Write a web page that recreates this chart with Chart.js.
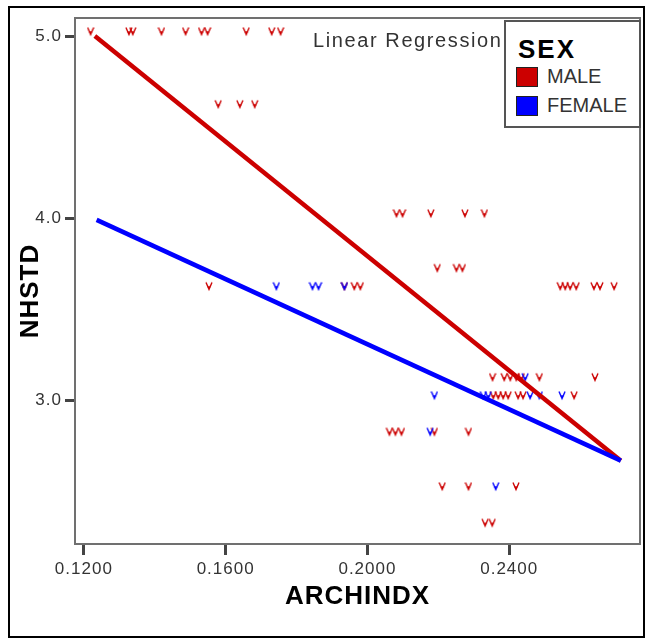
<!DOCTYPE html>
<html>
<head>
<meta charset="utf-8">
<script src="https://cdn.jsdelivr.net/npm/chart.js@4"></script>
<style>
  html, body { margin: 0; padding: 0; background: #fff; }
  #wrap { position: relative; width: 645px; height: 638px; font-family: "Liberation Sans", Arial, sans-serif; }
  #chart { position: absolute; left: 0; top: 0; }
  #frame { position: absolute; left: 8px; top: 6px; width: 637px; height: 632px; border: 2px solid #000; box-sizing: border-box; pointer-events: none; }
  #legend { position: absolute; left: 504px; top: 20px; width: 137px; height: 108px; border: 2px solid #555; box-sizing: border-box; background: #fff; }
  .txt { position: absolute; white-space: nowrap; color: #333; }
  .sw { position: absolute; width: 22px; height: 20px; border: 1px solid #222; box-sizing: border-box; }
  #ytitle { position: absolute; left: -31px; top: 278px; width: 120px; height: 26px; line-height: 26px; text-align: center;
            font-size: 26px; font-weight: bold; letter-spacing: 1px; color: #000; transform: rotate(-90deg); }
</style>
</head>
<body>
<div id="wrap">
  <canvas id="chart" width="645" height="638"></canvas>
  <div class="txt" id="note" style="left:313px; top:30px; font-size:20px; line-height:20px; letter-spacing:1.6px;">Linear Regression</div>
  <div id="legend"></div>
  <div class="txt" style="left:518px; top:36px; font-size:26px; line-height:26px; font-weight:bold; letter-spacing:2px; color:#000;">SEX</div>
  <div class="sw" style="left:516px; top:67px; background:#cc0000;"></div>
  <div class="txt" style="left:547px; top:66px; font-size:20px; line-height:20px;">MALE</div>
  <div class="sw" style="left:516px; top:96px; background:#0000ff;"></div>
  <div class="txt" style="left:547px; top:95px; font-size:20px; line-height:20px;">FEMALE</div>
  <div id="ytitle">NHSTD</div>
  <div id="frame"></div>
</div>
<script>
'use strict';

// ── Axis ticks ──
const xTicks = [0.12, 0.16, 0.20, 0.24];
const yTicks = [3.0, 4.0, 5.0];

// ── Scatter points (ARCHINDX, NHSTD) ──
const maleX = [
  0.1219, 0.1327, 0.1338, 0.1419, 0.1487, 0.1532, 0.1549, 0.1658, 0.1730, 0.1755,
  0.1579, 0.1640, 0.1682,
  0.2082, 0.2099, 0.2179, 0.2275, 0.2330,
  0.2197, 0.2251, 0.2268,
  0.1553, 0.1935, 0.1963, 0.1980, 0.2544, 0.2558, 0.2572, 0.2589, 0.2639, 0.2656, 0.2696,
  0.2353, 0.2386, 0.2403, 0.2420, 0.2434, 0.2485, 0.2642,
  0.2355, 0.2369, 0.2383, 0.2397, 0.2425, 0.2439, 0.2583,
  0.2062, 0.2079, 0.2096, 0.2189, 0.2285,
  0.2211, 0.2285, 0.2419,
  0.2332, 0.2352
];
const maleY = [
  5.0, 5.0, 5.0, 5.0, 5.0, 5.0, 5.0, 5.0, 5.0, 5.0,
  4.6, 4.6, 4.6,
  4.0, 4.0, 4.0, 4.0, 4.0,
  3.7, 3.7, 3.7,
  3.6, 3.6, 3.6, 3.6, 3.6, 3.6, 3.6, 3.6, 3.6, 3.6, 3.6,
  3.1, 3.1, 3.1, 3.1, 3.1, 3.1, 3.1,
  3.0, 3.0, 3.0, 3.0, 3.0, 3.0, 3.0,
  2.8, 2.8, 2.8, 2.8, 2.8,
  2.5, 2.5, 2.5,
  2.3, 2.3
];
const femaleX = [0.1743, 0.1845, 0.1862, 0.1935, 0.2445, 0.2189, 0.2327, 0.2341, 0.2459, 0.2485, 0.2549, 0.2177, 0.2362];
const femaleY = [3.6, 3.6, 3.6, 3.6, 3.1, 3.0, 3.0, 3.0, 3.0, 3.0, 3.0, 2.8, 2.5];

// ── Fitted regression lines (end points) ──
const maleFitX = [0.1231, 0.2715];
const maleFitY = [5.0, 2.667];
const femaleFitX = [0.1236, 0.2715];
const femaleFitY = [3.99, 2.667];

const RED = '#cc0000';
const BLUE = '#0000ff';
const FONT = '"Liberation Sans", Arial, sans-serif';

const zip = (xs, ys) => xs.map((x, i) => ({ x, y: ys[i] }));

// small "v" glyph sitting a little above its data point
function makeGlyph(color) {
    const c = document.createElement('canvas');
    c.width = 8; c.height = 20;
    const g = c.getContext('2d');
    g.strokeStyle = color;
    g.lineWidth = 1.4;
    g.beginPath();
    g.moveTo(1, 1.5); g.lineTo(4, 8.5); g.lineTo(7, 1.5);
    g.moveTo(2.2, 6); g.lineTo(5.8, 6);
    g.stroke();
    return c;
}

const framePlugin = {
    id: 'frame',
    beforeLayout(chart) { chart.ctx.letterSpacing = '1px'; },
    beforeDraw(chart) { chart.ctx.letterSpacing = '1px'; },
    afterDraw(chart) {
        const { ctx, chartArea: a } = chart;
        ctx.save();
        ctx.strokeStyle = '#707070';
        ctx.lineWidth = 2;
        ctx.strokeRect(a.left, a.top, a.right - a.left, a.bottom - a.top);
        ctx.restore();
    }
};

new Chart(document.getElementById('chart'), {
    type: 'scatter',
    data: {
        datasets: [
            {
                label: 'MALE fit',
                data: zip(maleFitX, maleFitY),
                showLine: true,
                borderColor: RED,
                borderWidth: 4.5,
                pointRadius: 0,
                order: 2
            },
            {
                label: 'FEMALE fit',
                data: zip(femaleFitX, femaleFitY),
                showLine: true,
                borderColor: BLUE,
                borderWidth: 4.5,
                pointRadius: 0,
                order: 1
            },
            {
                label: 'MALE',
                data: zip(maleX, maleY),
                pointStyle: makeGlyph(RED),
                pointRadius: 4,
                order: 4
            },
            {
                label: 'FEMALE',
                data: zip(femaleX, femaleY),
                pointStyle: makeGlyph(BLUE),
                pointRadius: 4,
                order: 3
            }
        ]
    },
    options: {
        responsive: false,
        animation: false,
        layout: { padding: { left: 0, top: 18, right: 4, bottom: 0 } },
        plugins: { legend: { display: false }, tooltip: { enabled: false } },
        scales: {
            x: {
                type: 'linear',
                min: 0.1175,
                max: 0.2769,
                afterBuildTicks: s => { s.ticks = xTicks.map(v => ({ value: v })); },
                afterFit: s => { s.height = 94; },
                border: { display: false },
                grid: { drawOnChartArea: false, drawTicks: true, tickLength: 11, tickWidth: 3, tickColor: '#444' },
                ticks: {
                    color: '#333',
                    padding: 4,
                    maxRotation: 0,
                    font: { family: FONT, size: 17 },
                    callback: v => Number(v).toFixed(4)
                },
                title: {
                    display: true,
                    text: 'ARCHINDX',
                    color: '#000',
                    font: { family: FONT, size: 26, weight: 'bold' },
                    padding: { top: 0, bottom: 26 }
                }
            },
            y: {
                type: 'linear',
                min: 2.209,
                max: 5.099,
                afterBuildTicks: s => { s.ticks = yTicks.map(v => ({ value: v })); },
                afterFit: s => { s.width = 75; },
                border: { display: false },
                grid: { drawOnChartArea: false, drawTicks: true, tickLength: 10, tickWidth: 3, tickColor: '#444' },
                ticks: {
                    color: '#333',
                    padding: 3,
                    font: { family: FONT, size: 17 },
                    callback: v => Number(v).toFixed(1)
                }
            }
        }
    },
    plugins: [framePlugin]
});
</script>
</body>
</html>
